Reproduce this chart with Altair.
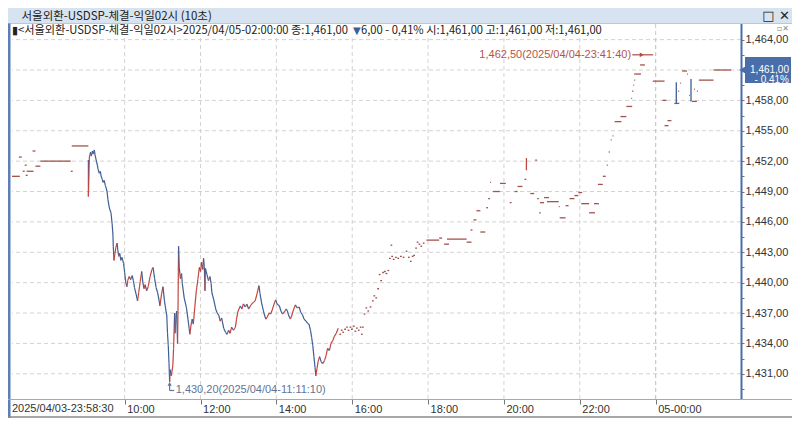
import altair as alt
import pandas as pd

# ---------------- data (hours of 2025/04/04, left part compressed) ----------------
dense_h = [9.044, 9.044, 9.07, 9.10, 9.12, 9.15, 9.17, 9.20, 9.22, 9.25, 9.28, 9.30, 9.33, 9.36, 9.38,
           9.41, 9.43, 9.46, 9.49, 9.51, 9.535, 9.56, 9.59, 9.61, 9.64, 9.67, 9.69, 9.70, 9.72, 9.74,
           9.77, 9.80, 9.82, 9.845, 9.87, 9.90, 9.93, 9.97, 10.00, 10.03, 10.06, 10.08, 10.12, 10.16,
           10.20, 10.23, 10.26, 10.30, 10.34, 10.37, 10.41, 10.45, 10.48, 10.51, 10.54, 10.58, 10.62,
           10.67, 10.72, 10.75, 10.79, 10.83, 10.87, 10.91, 10.93, 10.97, 11.01, 11.05, 11.09, 11.11,
           11.13, 11.15, 11.17, 11.186, 11.20, 11.23, 11.27, 11.29, 11.317, 11.33, 11.35, 11.37, 11.395,
           11.41, 11.421, 11.44, 11.47, 11.50, 11.52, 11.57, 11.63, 11.67, 11.70, 11.72, 11.75, 11.78,
           11.81, 11.85, 11.89, 11.93, 11.97, 12.00, 12.03, 12.06, 12.08, 12.10, 12.118, 12.13, 12.17,
           12.21, 12.25, 12.28, 12.30, 12.35, 12.40, 12.44, 12.48, 12.52, 12.56, 12.61, 12.66, 12.70,
           12.74, 12.78, 12.82, 12.87, 12.92, 12.95, 12.99, 13.05, 13.09, 13.13, 13.18, 13.22, 13.27,
           13.33, 13.38, 13.44, 13.49, 13.54, 13.57, 13.61, 13.64, 13.68, 13.72, 13.76, 13.81, 13.85,
           13.89, 13.94, 13.98, 14.02, 14.08, 14.12, 14.16, 14.21, 14.26, 14.29, 14.33, 14.37, 14.41,
           14.45, 14.50, 14.55, 14.60, 14.64, 14.69, 14.73, 14.78, 14.82, 14.86, 14.90, 14.93, 14.96,
           14.99, 15.02, 15.04, 15.07, 15.10, 15.14, 15.18, 15.22, 15.27, 15.31, 15.35, 15.40, 15.44,
           15.49, 15.53, 15.58, 15.63]
dense_p = [1452.1, 1448.5, 1452.4, 1452.9, 1452.5, 1453.0, 1452.7, 1453.1, 1452.6, 1452.1, 1451.6, 1451.2,
           1450.8, 1451.0, 1450.5, 1450.2, 1449.9, 1450.1, 1449.6, 1449.4, 1449.0, 1448.2, 1447.5, 1447.2,
           1446.9, 1445.8, 1444.8, 1443.6, 1442.2, 1442.8, 1443.5, 1443.9, 1443.2, 1442.6, 1442.9, 1442.2,
           1442.5, 1441.9, 1441.0, 1440.0, 1439.6, 1440.2, 1440.6, 1440.3, 1440.7, 1440.2, 1439.5, 1438.9,
           1438.2, 1439.0, 1440.1, 1441.1, 1440.0, 1439.4, 1439.8, 1439.2, 1439.6, 1440.6, 1441.3, 1441.5,
           1440.4, 1439.5, 1439.0, 1438.2, 1437.7, 1438.8, 1439.6, 1438.2, 1437.2, 1436.8, 1435.0, 1433.8,
           1432.0, 1430.2, 1431.4, 1430.8, 1431.8, 1433.5, 1437.0, 1435.0, 1436.6, 1437.2, 1434.0, 1438.5,
           1443.6, 1441.5, 1440.4, 1440.9, 1439.9, 1438.5, 1437.5, 1436.4, 1435.5, 1434.9, 1435.8, 1436.4,
           1435.9, 1437.6, 1439.2, 1440.3, 1441.5, 1441.1, 1442.0, 1441.3, 1442.4, 1441.6, 1439.2, 1441.4,
           1440.8, 1440.2, 1440.6, 1439.9, 1439.0, 1438.3, 1437.4, 1437.0, 1436.8, 1436.2, 1436.5, 1435.5,
           1435.1, 1434.9, 1435.3, 1435.0, 1435.6, 1435.3, 1435.6, 1436.4, 1437.2, 1437.7, 1437.4, 1437.9,
           1437.6, 1437.9, 1437.4, 1437.8, 1438.0, 1438.2, 1438.9, 1439.7, 1438.9, 1438.0, 1437.5, 1436.9,
           1436.4, 1436.6, 1437.0, 1436.9, 1437.3, 1437.9, 1438.3, 1437.9, 1437.7, 1437.2, 1436.9, 1437.1,
           1437.4, 1437.2, 1436.7, 1436.4, 1436.8, 1437.3, 1437.8, 1437.5, 1437.6, 1437.1, 1436.8, 1436.4,
           1436.2, 1436.0, 1435.9, 1435.3, 1434.6, 1433.8, 1432.7, 1431.6, 1430.8, 1431.5, 1432.2, 1432.7,
           1432.2, 1432.0, 1432.3, 1432.8, 1433.5, 1433.3, 1434.0, 1434.3, 1434.7, 1435.0, 1435.5]

dot_h = [15.66, 15.70, 15.74, 15.79, 15.84, 15.88, 15.93, 15.97, 16.02, 16.06, 16.10, 16.15, 16.20, 16.23,
         16.26, 16.30, 16.35, 16.40, 16.46, 16.52, 16.56, 16.61, 16.66, 16.70, 16.74, 16.79, 16.84, 16.88,
         16.93, 16.97, 17.01, 17.03, 17.07, 17.13, 17.19, 17.26, 17.33, 17.41, 17.47, 17.52, 17.57, 17.61,
         17.66, 17.70, 17.75, 17.80, 17.86]
dot_p = [1434.9, 1435.3, 1435.1, 1435.4, 1435.6, 1435.3, 1435.6, 1435.4, 1435.7, 1435.2, 1435.5, 1435.3,
         1435.6, 1434.9, 1435.6, 1436.9, 1437.5, 1437.2, 1437.6, 1438.2, 1438.7, 1438.5, 1439.4, 1440.8,
         1440.2, 1441.0, 1441.1, 1440.9, 1441.2, 1442.4, 1443.7, 1442.6, 1442.3, 1442.5, 1442.4, 1442.6,
         1442.5, 1443.1, 1442.5, 1442.1, 1442.6, 1442.7, 1443.4, 1444.0, 1443.8, 1443.6, 1443.9]

dash_h1 = [7.03, 7.21, 7.313, 7.365, 7.391, 7.417, 7.572, 7.649, 7.778, 8.579, 8.605,
           17.957, 18.292, 18.422, 18.499, 19.016, 19.119, 19.197, 19.274, 19.378, 19.532, 19.584, 19.636,
           19.713, 19.894, 20.152, 20.282, 20.359, 20.540, 20.695, 20.824, 20.876, 20.927, 20.953, 21.057,
           21.134, 21.444, 21.470, 21.625, 21.728, 21.857, 21.961, 22.038, 22.245, 22.374, 22.477, 22.606,
           22.710, 22.761, 22.813, 22.865, 22.917, 23.072, 23.227, 23.356, 23.382, 23.41, 23.434, 23.434,
           23.589, 23.924, 24.182, 24.311, 24.234, 24.492, 24.596, 24.647, 24.699, 24.828, 24.880, 24.958,
           25.010, 25.087, 25.139, 25.526]
dash_h2 = [7.236, 7.287, 7.365, 7.417, 7.443, 7.598, 7.649, 7.778, 8.579, 8.631, 9.044,
           18.292, 18.370, 18.551, 19.016, 19.145, 19.17, 19.274, 19.378, 19.507, 19.58, 19.63, 19.662,
           19.894, 20.049, 20.20, 20.359, 20.488, 20.59, 20.798, 20.87, 20.92, 20.97, 21.057, 21.186,
           21.444, 21.47, 21.625, 21.703, 21.857, 21.961, 22.064, 22.245, 22.400, 22.503, 22.606, 22.684,
           22.74, 22.79, 22.84, 22.89, 23.097, 23.227, 23.382, 23.38, 23.41, 23.434, 23.46, 23.614,
           23.717, 24.234, 24.286, 24.415, 24.338, 24.622, 24.62, 24.67, 24.828, 24.85, 24.90, 25.087,
           25.03, 25.11, 25.526, 25.991]
dash_p = [1450.5, 1452.4, 1451.0, 1451.6, 1450.6, 1451.0, 1453.0, 1451.5, 1452.0, 1451.0, 1453.5,
          1444.2, 1444.4, 1443.8, 1444.3, 1444.0, 1445.2, 1446.2, 1447.1, 1445.0, 1447.4, 1448.3, 1449.9,
          1449.0, 1449.8, 1447.9, 1449.0, 1449.5, 1450.2, 1448.8, 1452.1, 1448.3, 1446.9, 1447.9, 1448.4,
          1448.0, 1447.5, 1446.4, 1447.6, 1448.3, 1448.6, 1448.9, 1447.8, 1446.9, 1447.8, 1449.7, 1450.5,
          1451.6, 1452.9, 1454.1, 1454.5, 1455.9, 1456.4, 1457.4, 1458.2, 1458.9, 1459.5, 1460.0, 1460.6,
          1461.5, 1459.9, 1458.0, 1456.0, 1455.5, 1457.7, 1458.9, 1459.7, 1460.9, 1460.6, 1458.5, 1457.9,
          1459.1, 1458.9, 1460.0, 1461.0]

wick_h = [20.592, 24.544, 24.932]
wick_lo = [1451.1, 1457.7, 1457.9]
wick_hi = [1452.3, 1459.8, 1460.1]
wick_dir = ["up", "down", "down"]

max_h, max_p, max_label = 23.694, 1462.5, "1,462,50(2025/04/04-23:41:40)"
min_h, min_p, min_label = 11.186, 1430.2, "1,430,20(2025/04/04-11:11:10)"
last_p, last_label = 1461.0, "1,461,00\n- 0,41%"

x_ticks = [10, 12, 14, 16, 18, 20, 22, 24]
x_labels = ["10:00", "12:00", "14:00", "16:00", "18:00", "20:00", "22:00", "05-00:00"]
first_label = "2025/04/03-23:58:30"
y_major = [1431, 1434, 1437, 1440, 1443, 1446, 1449, 1452, 1455, 1458, 1461, 1464]
y_minor = [1429.5, 1432.5, 1435.5, 1438.5, 1441.5, 1444.5, 1447.5, 1450.5, 1453.5, 1456.5, 1459.5, 1462.5]

title_text = "서울외환-USDSP-체결-익일02시 (10초)"
head_a = "▮<서울외환-USDSP-체결-익일02시>2025/04/05-02:00:00 종:1,461,00"
head_b = "▼"
head_c = "6,00 - 0,41% 시:1,461,00 고:1,461,00 저:1,461,00"

# ---------------- styling ----------------
W, H = 729, 361
RED, BLUE, DASHC = "#c4463e", "#3d5f96", "#a4524c"
GRID = "#d2d2d2"
LAB = "Liberation Sans"
KR = "Noto Sans CJK KR"

xs = alt.Scale(domain=[7.03, 26.25], nice=False, zero=False)
ys = alt.Scale(domain=[1428.51, 1464.16], nice=False, zero=False)
dircol = alt.Scale(domain=["up", "down"], range=[RED, BLUE])


def xlabel_expr(vals, labels):
    expr = "''"
    for v, lab in reversed(list(zip(vals, labels))):
        expr = f"(abs(datum.value - {v}) < 0.01) ? '{lab}' : {expr}"
    return expr


x_axis = alt.Axis(values=x_ticks, labelExpr=xlabel_expr(x_ticks, x_labels), title=None, grid=False,
                  domain=True, domainColor="#a8a8a8", tickColor="#777", tickSize=5, labelPadding=-1,
                  labelAlign="left", labelOffset=2, labelFlush=False, labelOverlap=False,
                  labelFont=LAB, labelFontSize=11, labelColor="#333")
y_axis = alt.Axis(orient="right", values=sorted(y_major + y_minor), title=None, grid=False, domain=False,
                  labelExpr="(datum.value % 3 == 0 && datum.value != 1461) ? replace(format(datum.value, ',.2f'), '.', ',') : ''",
                  tickColor="#777", tickSize=3, labelPadding=1, labelFont=LAB, labelFontSize=11,
                  labelColor="#333", labelOverlap=False)


def X(field):
    return alt.X(field, scale=xs, axis=x_axis)


def Y(field):
    return alt.Y(field, scale=ys, axis=y_axis)


one = pd.DataFrame({"k": [0]})

# frames / decorations
title_bar = alt.Chart(one).mark_rect(color="#d7e3f0").encode(
    x=alt.value(-4), x2=alt.value(780), y=alt.value(-30), y2=alt.value(-14.5))
title_line = alt.Chart(one).mark_rule(color="#b9c9dc").encode(
    x=alt.value(-4), x2=alt.value(780), y=alt.value(-14.5))
left_strip = alt.Chart(one).mark_rect(color="#5b7fb6").encode(
    x=alt.value(-4), x2=alt.value(-1.5), y=alt.value(-14.5), y2=alt.value(380))
title_txt = alt.Chart(one).mark_text(align="left", baseline="middle", font=KR, fontSize=11.5,
                                     color="#222").encode(x=alt.value(9.5), y=alt.value(-21.5),
                                                          text=alt.value(title_text))
win_btn = alt.Chart(one).mark_text(align="right", baseline="middle", font="DejaVu Sans", fontSize=13,
                                   fontWeight="bold", color="#222").encode(
    x=alt.value(778), y=alt.value(-22.3), text=alt.value("□ ✕"))
small_btn = alt.Chart(one).mark_text(align="right", baseline="middle", font="DejaVu Sans", fontSize=8,
                                     color="#888").encode(x=alt.value(777), y=alt.value(-9),
                                                          text=alt.value("▫✕"))
head_a_txt = alt.Chart(one).mark_text(align="left", baseline="middle", font=KR, fontSize=11.2,
                                      color="#222").encode(x=alt.value(0), y=alt.value(-6.7),
                                                           text=alt.value(head_a))
head_b_txt = alt.Chart(one).mark_text(align="left", baseline="middle", font="DejaVu Sans", fontSize=10,
                                      color="#3d5f96").encode(x=alt.value(341), y=alt.value(-6.7),
                                                              text=alt.value(head_b))
head_c_txt = alt.Chart(one).mark_text(align="left", baseline="middle", font=KR, fontSize=11.2,
                                      color="#222").encode(x=alt.value(349), y=alt.value(-6.7),
                                                           text=alt.value(head_c))

# grid
vgrid = alt.Chart(pd.DataFrame({"h": x_ticks})).mark_rule(color=GRID, strokeDash=[4, 3]).encode(
    x=X("h:Q"))
hgrid = alt.Chart(pd.DataFrame({"p": y_major})).mark_rule(color=GRID, strokeDash=[4, 3]).encode(
    y=Y("p:Q"))
date_line = alt.Chart(pd.DataFrame({"h": [24]})).mark_rule(color="#c8c8c8", strokeDash=[4, 3]).encode(
    x=X("h:Q"), y=alt.value(-14), y2=alt.value(H))

# price data
dense = pd.DataFrame({"h": dense_h, "p": dense_p})
dense["h2"] = dense["h"].shift(-1)
dense["p2"] = dense["p"].shift(-1)
dense = dense.dropna().reset_index(drop=True)
dense["dir"] = ["up" if b >= a else "down" for a, b in zip(dense["p"], dense["p2"])]

line = alt.Chart(dense).mark_rule(strokeWidth=1.2).encode(
    x=X("h:Q"), x2="h2:Q", y=Y("p:Q"), y2="p2:Q",
    color=alt.Color("dir:N", scale=dircol, legend=None))

dots = pd.DataFrame({"h": dot_h, "p": dot_p})
dots["h2"] = dots["h"] + 0.045
dots_l = alt.Chart(dots).mark_rule(color="#9c4a48", strokeWidth=1.3).encode(
    x=X("h:Q"), x2="h2:Q", y=Y("p:Q"))

dashes = pd.DataFrame({"h1": dash_h1, "h2": dash_h2, "p": dash_p})
dash_l = alt.Chart(dashes).mark_rule(color=DASHC, strokeWidth=1.3).encode(
    x=X("h1:Q"), x2="h2:Q", y=Y("p:Q"))

wicks = pd.DataFrame({"h": wick_h, "lo": wick_lo, "hi": wick_hi, "dir": wick_dir})
wick_l = alt.Chart(wicks).mark_rule(strokeWidth=1.3).encode(
    x=X("h:Q"), y=Y("lo:Q"), y2="hi:Q",
    color=alt.Color("dir:N", scale=dircol, legend=None))

# max annotation
mx = pd.DataFrame({"h": [max_h], "p": [max_p], "t": [max_label]})
mx["ha"] = mx["h"] - 0.31
mx["hb"] = mx["h"] + 0.24
mx["hm"] = mx["h"] - 0.06
max_rule = alt.Chart(mx).mark_rule(color="#b04a42", strokeWidth=1.2).encode(
    x=X("ha:Q"), x2="hb:Q", y=Y("p:Q"))
max_head = alt.Chart(mx).mark_point(shape="triangle-right", filled=True, size=22, color="#b04a42",
                                    opacity=1).encode(x=X("hm:Q"), y=Y("p:Q"))
max_txt = alt.Chart(mx).mark_text(align="right", baseline="middle", dx=-13, font=LAB, fontSize=11,
                                  color="#b5544b").encode(x=X("h:Q"), y=Y("p:Q"), text="t:N")

# min annotation
mn = pd.DataFrame({"h": [min_h], "p": [min_p], "t": [min_label]})
mn["pl"] = mn["p"] - 0.85
mn["hr"] = mn["h"] + 0.12
mn["ht"] = mn["h"] + 0.16
mn["pa"] = mn["p"] - 0.2
min_v = alt.Chart(mn).mark_rule(color="#5f7597", strokeWidth=1.2).encode(
    x=X("h:Q"), y=Y("pa:Q"), y2="pl:Q")
min_hz = alt.Chart(mn).mark_rule(color="#5f7597", strokeWidth=1.2).encode(
    x=X("h:Q"), x2="hr:Q", y=Y("pl:Q"))
min_head = alt.Chart(mn).mark_point(shape="triangle-up", filled=True, size=18, color="#5f7597",
                                    opacity=1).encode(x=X("h:Q"), y=Y("pa:Q"))
min_txt = alt.Chart(mn).mark_text(align="left", baseline="middle", font=LAB, fontSize=11,
                                  color="#5f7597").encode(x=X("ht:Q"), y=Y("pl:Q"), text="t:N")

# current price box on the right axis
cur = pd.DataFrame({"p": [last_p], "t": [last_label]})
cur["top"] = cur["p"] + 1.28
cur["bot"] = cur["p"] - 1.28
box = alt.Chart(cur).mark_rect(color="#4a6ea9").encode(
    x=alt.value(733), x2=alt.value(779), y=Y("top:Q"), y2="bot:Q")
notch = alt.Chart(cur).mark_point(shape="triangle-left", filled=True, size=70, color="#4a6ea9",
                                  opacity=1).encode(x=alt.value(731), y=Y("p:Q"))
box_txt = alt.Chart(cur).mark_text(align="right", baseline="middle", font=LAB, fontSize=10,
                                   lineBreak="\n", lineHeight=10.5, color="white").encode(
    x=alt.value(777), y=Y("p:Q"), text="t:N")

# axis lines / frame
blue_axis = alt.Chart(one).mark_rule(color="#4a6ea9", strokeWidth=2).encode(
    x=alt.value(W + 0.5), y=alt.value(-14), y2=alt.value(H))
bottom_line = alt.Chart(one).mark_rule(color="#a8a8a8").encode(
    x=alt.value(-4), x2=alt.value(780), y=alt.value(H + 0.5))
bottom_border = alt.Chart(one).mark_rule(color="#8a8a8a", strokeWidth=1.5).encode(
    x=alt.value(-4), x2=alt.value(780), y=alt.value(H + 18))
first_lab = alt.Chart(one).mark_text(align="left", baseline="top", font=LAB, fontSize=11,
                                     color="#333").encode(x=alt.value(0), y=alt.value(H + 4),
                                                          text=alt.value(first_label))

chart = alt.layer(
    title_bar, title_line, left_strip, vgrid, hgrid, date_line,
    line, dots_l, dash_l, wick_l,
    max_rule, max_head, max_txt, min_v, min_hz, min_head, min_txt,
    bottom_line, bottom_border, blue_axis, box, notch, box_txt,
    title_txt, win_btn, small_btn, head_a_txt, head_b_txt, head_c_txt, first_lab,
).properties(
    width=W, height=H,
    padding={"left": 4, "top": 30, "right": 51, "bottom": 19},
    autosize=alt.AutoSizeParams(type="none"),
    background="white",
).configure_view(stroke=None)

chart.save("out.html", embed_options={"renderer": "svg", "actions": False})
